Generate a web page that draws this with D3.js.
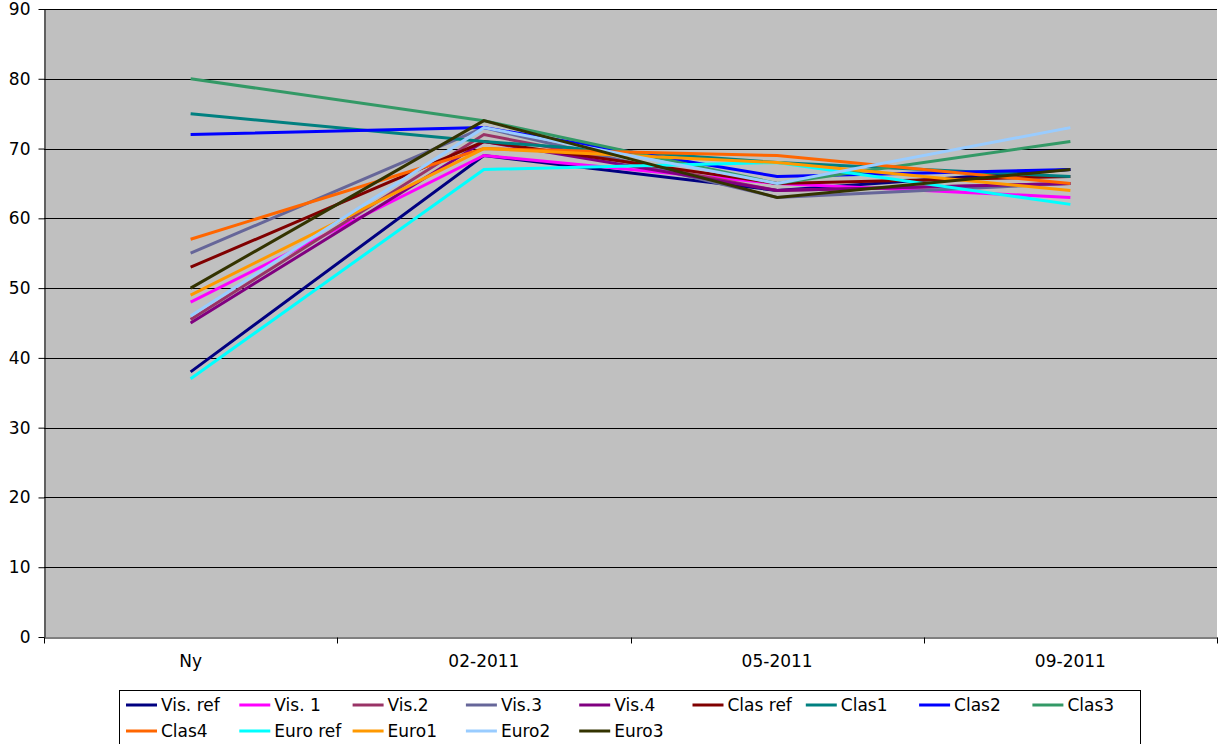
<!DOCTYPE html>
<html><head><meta charset="utf-8">
<script src="https://cdnjs.cloudflare.com/ajax/libs/d3/7.8.5/d3.min.js"></script>
<style>body{margin:0;background:#fff;}svg{display:block;font-family:"DejaVu Sans",Verdana,sans-serif;}</style>
</head><body>
<svg id="c" width="1219" height="744"></svg>
<script>
const categories = ["Ny", "02-2011", "05-2011", "09-2011"];
const seriesNames = ["Vis. ref","Vis. 1","Vis.2","Vis.3","Vis.4","Clas ref","Clas1","Clas2","Clas3","Clas4","Euro ref","Euro1","Euro2","Euro3"];
const visRef  = [38, 69, 64, 67];
const vis1    = [48, 69, 65, 63];
const vis2    = [45.5, 72, 64, 65];
const vis3    = [55, 73, 63, 65];
const vis4    = [45, 71, 64, 65];
const clasRef = [53, 71, 65, 66];
const clas1   = [75, 71, 68, 66];
const clas2   = [72, 73, 66, 67];
const clas3   = [80, 74, 65, 71];
const clas4   = [57, 70, 69, 65];
const euroRef = [37, 67, 68, 62];
const euro1   = [49, 70, 68, 64];
const euro2   = [46, 73, 65, 73];
const euro3   = [50, 74, 63, 67];
const yTicks = [0,10,20,30,40,50,60,70,80,90];
const colors = ["#000080","#FF00FF","#993366","#666699","#800080","#800000","#008080","#0000FF","#339966","#FF6600","#00FFFF","#FF9900","#99CCFF","#333300"];
const values = [visRef,vis1,vis2,vis3,vis4,clasRef,clas1,clas2,clas3,clas4,euroRef,euro1,euro2,euro3];

const FS = 17;
const svg = d3.select("#c");
const L = 44, R = 1217, T = 9, B = 637;
const x = d3.scaleBand().domain(categories).range([L, R]);
const y = d3.scaleLinear().domain([0, 90]).range([B, T]);

svg.append("rect").attr("x", L).attr("y", T).attr("width", R - L).attr("height", B - T).attr("fill", "#C0C0C0");

// gridlines
svg.append("g").selectAll("line").data(yTicks.filter(d => d > 0)).join("line")
  .attr("x1", L).attr("x2", R).attr("y1", d => Math.round(y(d)) + 0.5).attr("y2", d => Math.round(y(d)) + 0.5)
  .attr("stroke", "#000").attr("stroke-width", 1);

// y axis
const ya = svg.append("g").attr("transform", `translate(${L + 0.5},0)`)
  .call(d3.axisLeft(y).tickValues(yTicks).tickSize(6).tickSizeOuter(0).tickPadding(8));
ya.selectAll("text").attr("font-size", FS).attr("fill", "#000").attr("font-family", "DejaVu Sans, Verdana, sans-serif");
ya.selectAll("line,path").attr("stroke", "#000");

// x axis
const xa = svg.append("g").attr("transform", `translate(0,${B + 0.5})`)
  .call(d3.axisBottom(x).tickSize(0).tickPadding(17));
xa.selectAll("text").attr("font-size", FS).attr("fill", "#000").attr("font-family", "DejaVu Sans, Verdana, sans-serif");
xa.select("path").attr("stroke", "#000");
xa.append("g").selectAll("line").data(d3.range(categories.length + 1)).join("line")
  .attr("x1", i => Math.round(L + i * x.step()) + 0.5).attr("x2", i => Math.round(L + i * x.step()) + 0.5)
  .attr("y1", 0).attr("y2", 6).attr("stroke", "#000");

// lines
const line = d3.line().x((d, i) => x(categories[i]) + x.bandwidth() / 2).y(d => y(d));
svg.append("g").selectAll("path").data(values).join("path")
  .attr("d", d => line(d)).attr("fill", "none")
  .attr("stroke", (d, i) => colors[i]).attr("stroke-width", 3).attr("stroke-linejoin", "miter");

// legend
const lg = svg.append("g");
lg.append("rect").attr("x", 119.5).attr("y", 690.5).attr("width", 1021).attr("height", 60)
  .attr("fill", "#fff").attr("stroke", "#000").attr("stroke-width", 1);
const colW = 113.3;
seriesNames.forEach((name, i) => {
  const col = i % 9, row = Math.floor(i / 9);
  const gx = 126 + col * colW, gy = 705 + row * 26;
  lg.append("line").attr("x1", gx).attr("x2", gx + 31).attr("y1", gy).attr("y2", gy)
    .attr("stroke", colors[i]).attr("stroke-width", 3);
  lg.append("text").attr("x", gx + 35).attr("y", gy + 6).attr("font-size", FS).attr("fill", "#000").text(name);
});
</script>
</body></html>
